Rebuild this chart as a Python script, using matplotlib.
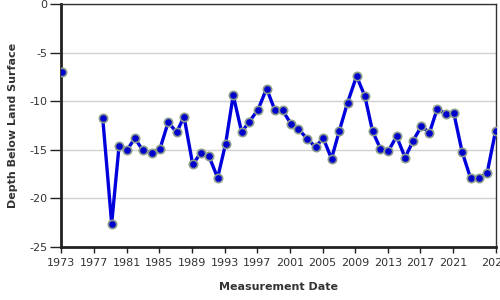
import numpy as np
import matplotlib
matplotlib.use("Agg")
import matplotlib.pyplot as plt

# decimal years of measurements (NaN marks a gap in the line)
years = [1973.1, np.nan, 1978.07, 1979.17, 1980.07, 1981.08, 1982.0, 1983.0, 1984.07,
         1985.09, 1986.1, 1987.13, 1988.03, 1989.1, 1990.07, 1991.1, 1992.15,
         1993.13, 1994.06, 1995.09, 1996.0, 1997.1, 1998.15, 1999.17, 2000.1,
         2001.13, 2002.0, 2003.1, 2004.15, 2005.08, 2006.1, 2007.04, 2008.07,
         2009.17, 2010.19, 2011.13, 2012.1, 2013.04, 2014.07, 2015.12, 2016.1,
         2017.12, 2018.1, 2019.04, 2020.1, 2021.08, 2022.1, 2023.13, 2024.15,
         2025.16, 2026.19]
depth = [-6.96, np.nan, -11.67, -22.6, -14.64, -14.98, -13.8, -15.05, -15.3,
         -14.88, -12.13, -13.2, -11.57, -16.5, -15.33, -15.67, -17.87,
         -14.36, -9.37, -13.16, -12.13, -10.85, -8.68, -10.92, -10.92,
         -12.3, -12.8, -13.84, -14.7, -13.78, -15.9, -13.09, -10.12,
         -7.4, -9.47, -13.09, -14.88, -15.15, -13.6, -15.8, -14.05,
         -12.55, -13.23, -10.8, -11.26, -11.2, -15.2, -17.9, -17.9,
         -17.4, -13.09]
xtick_vals = [1973, 1977, 1981, 1985, 1989, 1993, 1997, 2001, 2005, 2009, 2013, 2017, 2021, 2026.19]
xtick_labels = ["1973", "1977", "1981", "1985", "1989", "1993", "1997", "2001",
                "2005", "2009", "2013", "2017", "2021", "2026"]
ytick_vals = [0, -5, -10, -15, -20, -25]

fig = plt.figure(figsize=(5, 3), dpi=100)
ax = fig.add_axes([61.3/500, 1 - 247/300, (495.5 - 61.3)/500, (247 - 4.3)/300])

ax.plot(years, depth, color="#0000dd", lw=2.4, zorder=3,
        marker="o", ms=6, mfc="#0000cc", mec="#8c9c8c", mew=1.2)

ax.set_xlim(1973, 2026.19)
ax.set_ylim(-25, 0)
ax.set_xticks(xtick_vals)
ax.set_xticklabels(xtick_labels)
ax.set_yticks(ytick_vals)
ax.set_yticklabels([str(v) for v in ytick_vals])
ax.yaxis.grid(True, color="#d0d0d0", lw=1)
ax.set_axisbelow(True)

for s in ["left", "bottom"]:
    ax.spines[s].set_linewidth(2)
    ax.spines[s].set_color("#222222")
for s in ["top", "right"]:
    ax.spines[s].set_linewidth(1)
    ax.spines[s].set_color("#333333")

ax.tick_params(axis="y", length=8, width=1, color="#222222", pad=2,
               labelsize=8, labelcolor="#333333")
ax.tick_params(axis="x", length=4, width=1, color="#222222", pad=4,
               labelsize=8, labelcolor="#333333")
for lab in ax.get_xticklabels():
    lab.set_clip_on(False)

ax.set_xlabel("Measurement Date", fontsize=8, fontweight="bold", color="#333333", labelpad=10)
ax.set_ylabel("Depth Below Land Surface", fontsize=8, fontweight="bold", color="#333333", labelpad=8)

fig.savefig("out.png", dpi=100)
